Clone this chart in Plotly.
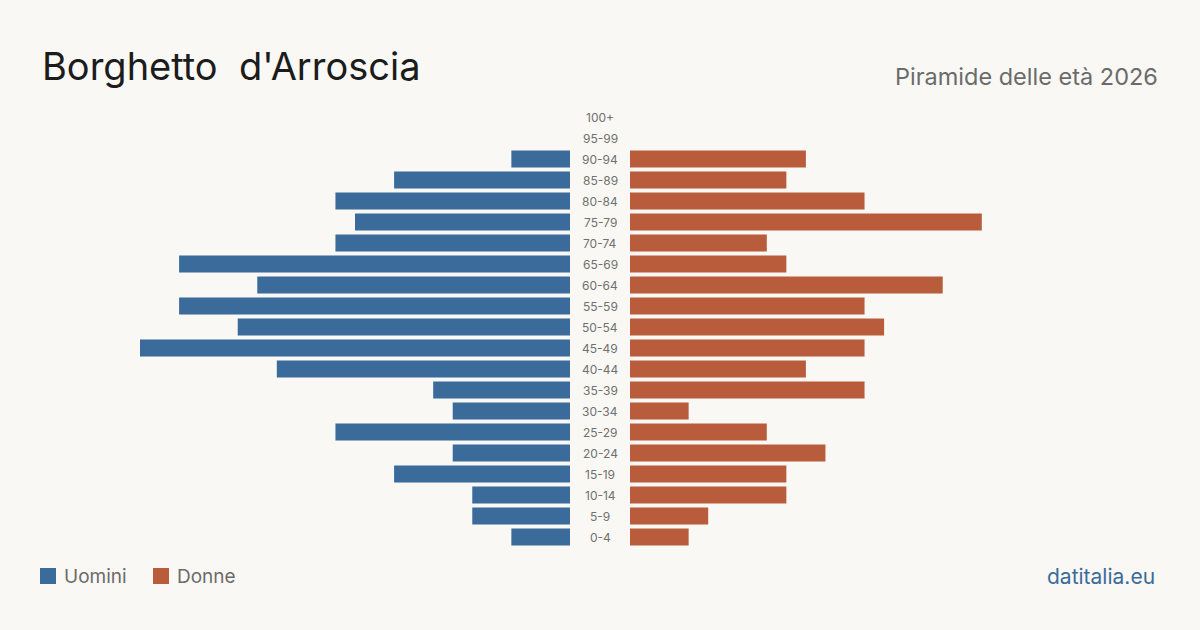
import plotly.graph_objects as go

age_groups = ["0-4", "5-9", "10-14", "15-19", "20-24", "25-29", "30-34", "35-39",
              "40-44", "45-49", "50-54", "55-59", "60-64", "65-69", "70-74",
              "75-79", "80-84", "85-89", "90-94", "95-99", "100+"]
men = [3, 5, 5, 9, 6, 12, 6, 7, 15, 22, 17, 20, 16, 20, 12, 11, 12, 9, 3, 0, 0]
women = [3, 4, 8, 8, 10, 7, 3, 12, 9, 12, 13, 12, 16, 8, 7, 18, 12, 8, 9, 0, 0]

title_text = "Borghetto  d'Arroscia"
subtitle_text = "Piramide delle età 2026"
source_text = "datitalia.eu"
legend_labels = ["Uomini", "Donne"]

BLUE = "#3b6b9b"
ORANGE = "#b95c3c"
BG = "#f9f8f4"
FONT = "Inter, 'Noto Sans', sans-serif"

W, H = 1200, 630
xmax = 22

fig = go.Figure()
fig.add_trace(go.Bar(y=age_groups, x=men, orientation="h", marker_color=BLUE,
                     marker_line_width=0,
                     width=0.8, xaxis="x", yaxis="y", name=legend_labels[0],
                     showlegend=False, hovertemplate="%{y}: %{x}<extra></extra>"))
fig.add_trace(go.Bar(y=age_groups, x=women, orientation="h", marker_color=ORANGE,
                     marker_line_width=0,
                     width=0.8, xaxis="x2", yaxis="y", name=legend_labels[1],
                     showlegend=False, hovertemplate="%{y}: %{x}<extra></extra>"))

y_top = 1 - 106.5 / H
y_bot = 1 - 547.5 / H

fig.update_layout(
    template="none",
    width=W, height=H,
    margin=dict(l=0, r=0, t=0, b=0),
    paper_bgcolor=BG, plot_bgcolor=BG,
    font=dict(family=FONT),
    bargap=0.2,
    xaxis=dict(domain=[140 / W, 570 / W], range=[xmax, 0], visible=False, fixedrange=True),
    xaxis2=dict(domain=[630 / W, 1060 / W], range=[0, xmax], visible=False, fixedrange=True),
    yaxis=dict(domain=[y_bot, y_top], type="category", categoryorder="array",
               categoryarray=age_groups, visible=False, fixedrange=True),
)

annotations = []
for g in age_groups:
    annotations.append(dict(x=600 / W, y=g, xref="paper", yref="y", text=g, showarrow=False,
                            font=dict(size=12, color="#707070", family=FONT),
                            xanchor="center", yanchor="middle"))

annotations.append(dict(x=40 / W, y=1 - 66 / H, xref="paper", yref="paper", text=title_text,
                        showarrow=False, xanchor="left", yanchor="middle",
                        font=dict(size=38, color="#1c1c1c", family=FONT)))
annotations.append(dict(x=1160 / W, y=1 - 76 / H, xref="paper", yref="paper", text=subtitle_text,
                        showarrow=False, xanchor="right", yanchor="middle",
                        font=dict(size=23.5, color="#6b6b6b", family=FONT)))
annotations.append(dict(x=1157 / W, y=1 - 576 / H, xref="paper", yref="paper", text=source_text,
                        showarrow=False, xanchor="right", yanchor="middle",
                        font=dict(size=21, color=BLUE, family=FONT)))

shapes = []
legend_x = [40, 153]
for lx, lab, col in zip(legend_x, legend_labels, [BLUE, ORANGE]):
    shapes.append(dict(type="rect", xref="paper", yref="paper",
                       x0=lx / W, x1=(lx + 16) / W, y0=1 - 584 / H, y1=1 - 568 / H,
                       fillcolor=col, line=dict(width=0)))
    annotations.append(dict(x=(lx + 22) / W, y=1 - 576 / H, xref="paper", yref="paper", text=lab,
                            showarrow=False, xanchor="left", yanchor="middle",
                            font=dict(size=19, color="#6b6b6b", family=FONT)))

fig.update_layout(annotations=annotations, shapes=shapes)

fig.write_html("out.html")
